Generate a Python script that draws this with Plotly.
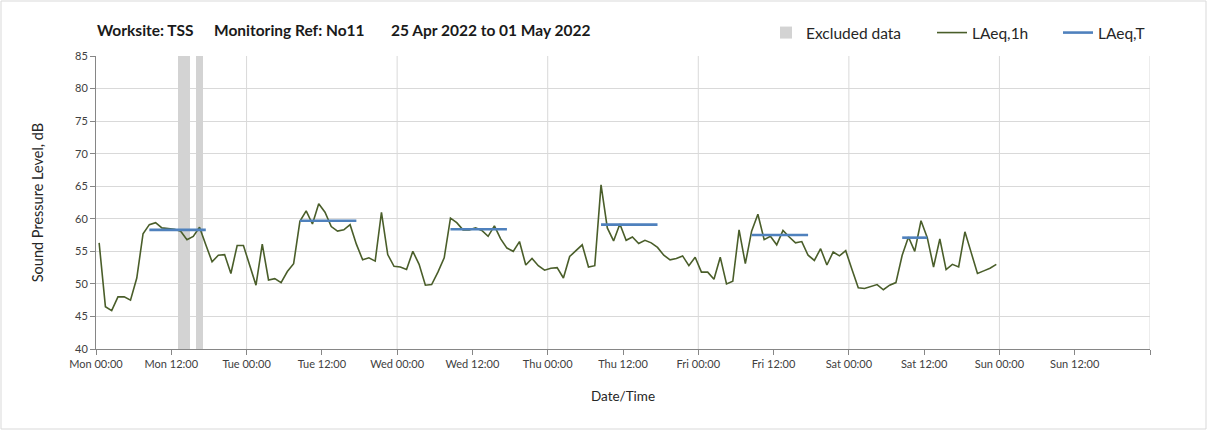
import plotly.graph_objects as go
import pandas as pd

# ---------------- data ----------------
first_reading = "2022-04-25 00:30"  # hourly readings (mid-hour stamps)
laeq_1h = [
    56.3, 46.5, 45.9, 48.0, 48.0, 47.5, 50.9, 57.7, 59.1, 59.4, 58.6, 58.5,
    58.4, 58.1, 56.8, 57.3, 58.7, 56.0, 53.4, 54.4, 54.5, 51.6, 55.9, 55.9,
    52.9, 49.8, 56.1, 50.6, 50.8, 50.2, 51.9, 53.1, 59.6, 61.2, 59.2, 62.3,
    61.0, 58.8, 58.1, 58.3, 59.1, 56.1, 53.7, 54.0, 53.5, 61.0, 54.5, 52.7,
    52.6, 52.2, 55.0, 53.0, 49.8, 49.9, 51.8, 54.0, 60.1, 59.4, 58.3, 58.3,
    58.6, 58.2, 57.3, 58.9, 56.9, 55.5, 55.0, 56.5, 52.9, 53.9, 52.8, 52.1,
    52.4, 52.5, 50.9, 54.2, 55.1, 56.0, 52.6, 52.8, 65.2, 58.6, 56.6, 59.2,
    56.7, 57.2, 56.2, 56.7, 56.3, 55.6, 54.4, 53.7, 53.9, 54.3, 52.8, 54.1,
    51.8, 51.8, 50.7, 54.1, 50.0, 50.4, 58.3, 53.1, 58.1, 60.7, 56.8, 57.3,
    56.0, 58.2, 57.2, 56.3, 56.5, 54.4, 53.6, 55.4, 52.9, 54.9, 54.3, 55.1,
    52.2, 49.4, 49.3, 49.6, 49.9, 49.1, 49.8, 50.2, 54.4, 57.2, 55.0, 59.7,
    57.1, 52.6, 56.9, 52.2, 53.0, 52.6, 58.0, 54.8, 51.6, 52.0, 52.4, 53.0,
]

laeqT_start = ["2022-04-25 08:30", "2022-04-26 08:30", "2022-04-27 08:30",
               "2022-04-28 08:30", "2022-04-29 08:30", "2022-04-30 08:30"]
laeqT_end = ["2022-04-25 17:30", "2022-04-26 17:30", "2022-04-27 17:30",
             "2022-04-28 17:30", "2022-04-29 17:30", "2022-04-30 12:30"]
laeqT_value = [58.3, 59.7, 58.4, 59.1, 57.5, 57.1]

excluded_start = ["2022-04-25 13:00", "2022-04-25 16:00"]
excluded_end = ["2022-04-25 15:00", "2022-04-25 17:00"]

tick_times = pd.date_range("2022-04-25 00:00", "2022-05-02 00:00", freq="12h")
tick_labels = ["Mon 00:00", "Mon 12:00", "Tue 00:00", "Tue 12:00", "Wed 00:00",
               "Wed 12:00", "Thu 00:00", "Thu 12:00", "Fri 00:00", "Fri 12:00",
               "Sat 00:00", "Sat 12:00", "Sun 00:00", "Sun 12:00", ""]
day_lines = pd.date_range("2022-04-26", "2022-05-02", freq="D")

y_min, y_max = 40, 85
title_parts = ["Worksite: TSS", "Monitoring Ref: No11", "25 Apr 2022 to 01 May 2022"]

# ---------------- figure ----------------
FONT = "Lato, 'Open Sans', sans-serif"
W, H = 1208, 432
ML, MR, MT, MB = 96, 58, 56, 83
PW, PH = W - ML - MR, H - MT - MB


def px_x(px):
    return (px - ML) / PW


def px_y(py):
    return (H - MB - py) / PH


times = pd.date_range(first_reading, periods=len(laeq_1h), freq="h")

ex_s = pd.to_datetime(excluded_start)
ex_e = pd.to_datetime(excluded_end)
ex_mid = ex_s + (ex_e - ex_s) / 2
ex_w = [(e - s).total_seconds() * 1000 for s, e in zip(ex_s, ex_e)]

tx, ty = [], []
for s, e, v in zip(laeqT_start, laeqT_end, laeqT_value):
    tx += [pd.Timestamp(s), pd.Timestamp(e), None]
    ty += [v, v, None]

fig = go.Figure()
fig.add_trace(go.Bar(
    x=ex_mid, y=[y_max - y_min] * len(ex_mid), base=y_min, width=ex_w,
    marker=dict(color="#D3D3D3", line=dict(width=0)), name="Excluded data",
    legend="legend",
))
fig.add_trace(go.Scatter(
    x=times, y=laeq_1h, mode="lines", name="LAeq,1h",
    line=dict(color="#4A5E2A", width=1.6), legend="legend2",
))
fig.add_trace(go.Scatter(
    x=tx, y=ty, mode="lines", name="LAeq,T", connectgaps=False,
    line=dict(color="#4F81BD", width=2.6), legend="legend3",
))

for d in day_lines:
    fig.add_shape(type="line", xref="x", yref="paper", x0=d, x1=d, y0=0, y1=1,
                  line=dict(color="#D9D9D9", width=1), layer="below")

# outer chart border
fig.add_shape(type="rect", xref="paper", yref="paper",
              x0=px_x(1), x1=px_x(W - 2), y0=px_y(H - 3), y1=px_y(1),
              line=dict(color="#D9D9D9", width=1), fillcolor="rgba(0,0,0,0)")

title_px = [95, 212, 389]
for t, px in zip(title_parts, title_px):
    fig.add_annotation(text=f"<b>{t}</b>", xref="paper", yref="paper",
                       x=px_x(px), y=px_y(30),
                       xanchor="left", yanchor="middle", showarrow=False,
                       font=dict(family=FONT, size=15.5, color="#1A1A1A"))

leg_font = dict(family=FONT, size=15.5, color="#262626")


def leg(px):
    return dict(orientation="h", x=px_x(px), xanchor="left", y=px_y(33),
                yanchor="middle", font=leg_font, bgcolor="rgba(0,0,0,0)",
                borderwidth=0, itemwidth=30)


fig.update_layout(
    width=W, height=H,
    margin=dict(l=ML, r=MR, t=MT, b=MB),
    paper_bgcolor="white", plot_bgcolor="white",
    font=dict(family=FONT, size=11, color="#404040"),
    bargap=0,
    showlegend=True,
    legend=leg(766),
    legend2=leg(932),
    legend3=leg(1058),
    xaxis=dict(
        type="date",
        range=[tick_times[0], tick_times[-1]],
        tickmode="array", tickvals=list(tick_times), ticktext=tick_labels,
        showgrid=False, zeroline=False,
        showline=True, linecolor="#868686", linewidth=1,
        ticks="outside", ticklen=5, tickcolor="#868686",
        tickfont=dict(family=FONT, size=11, color="#404040"),
        title=dict(text="Date/Time", standoff=22,
                   font=dict(family=FONT, size=13.5, color="#262626")),
    ),
    yaxis=dict(
        range=[y_min, y_max], dtick=5, tick0=40,
        showgrid=True, gridcolor="#D9D9D9", gridwidth=1, zeroline=False,
        showline=True, linecolor="#868686", linewidth=1,
        ticks="outside", ticklen=5, tickcolor="#868686",
        tickfont=dict(family=FONT, size=11, color="#404040"),
        title=dict(text="Sound Pressure Level, dB", standoff=27,
                   font=dict(family=FONT, size=14.5, color="#262626")),
    ),
)

fig.write_html("out.html", config={"displayModeBar": False},
               post_script="document.body.style.margin='0';")
